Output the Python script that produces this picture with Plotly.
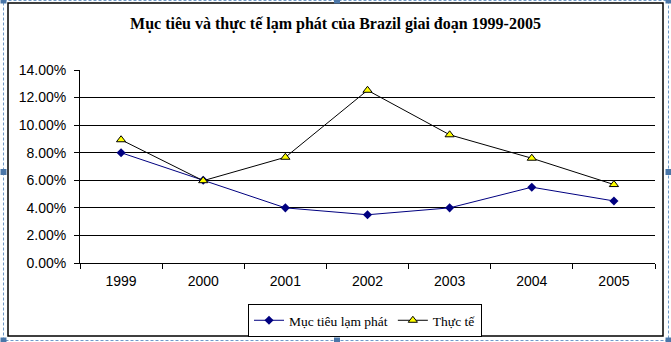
import plotly.graph_objects as go

years = ["1999", "2000", "2001", "2002", "2003", "2004", "2005"]
target = [0.08, 0.06, 0.04, 0.035, 0.04, 0.055, 0.045]
actual = [0.0894, 0.0597, 0.0767, 0.1253, 0.0930, 0.0760, 0.0569]
yticks = [0, 0.02, 0.04, 0.06, 0.08, 0.10, 0.12, 0.14]

W, H = 671, 342
L, R, T, B = 80, 16, 70, 79
PW, PH = W - L - R, H - T - B

def px(x):
    return (x - L) / PW

def py(y):
    return (H - B - y) / PH

fig = go.Figure()
fig.add_trace(go.Scatter(
    x=years, y=target, name="Mục tiêu lạm phát", mode="lines+markers",
    line=dict(color="#000080", width=1),
    marker=dict(symbol="diamond", size=7, color="#000080", line=dict(width=0)),
))
fig.add_trace(go.Scatter(
    x=years, y=actual, name="Thực tế", mode="lines+markers",
    line=dict(color="#000000", width=1),
    marker=dict(symbol="triangle-up", size=8, color="#FFFF00", line=dict(color="#000000", width=1)),
))

shapes = []
# chart area frame
shapes.append(dict(type="rect", xref="paper", yref="paper",
                   x0=px(8), x1=px(663), y0=py(3), y1=py(336),
                   line=dict(color="black", width=1.5), layer="below"))
# selection dashed border
shapes.append(dict(type="rect", xref="paper", yref="paper",
                   x0=px(3.5), x1=px(668.5), y0=py(0.5), y1=py(340.5),
                   line=dict(color="#6E9AC9", width=1, dash="3px,2px"), layer="below"))
# handles
for hx, hy in [(3.5, 0.5), (337, 0.5), (668.5, 0.5), (3.5, 172), (668.5, 172),
               (3.5, 340.5), (337, 340.5), (668.5, 340.5)]:
    shapes.append(dict(type="rect", xref="paper", yref="paper",
                       x0=px(hx - 3), x1=px(hx + 3), y0=py(hy - 3), y1=py(hy + 3),
                       line=dict(width=0), fillcolor="#4A76A8"))

fig.update_layout(
    width=W, height=H,
    margin=dict(l=L, r=R, t=T, b=B),
    paper_bgcolor="white", plot_bgcolor="white",
    title=dict(text="<b>Mục tiêu và thực tế lạm phát của Brazil giai đoạn 1999-2005</b>",
               x=0.5, xref="container", xanchor="center",
               y=1 - 23 / H, yref="container", yanchor="middle",
               font=dict(family="Liberation Serif", size=16, color="black")),
    showlegend=True,
    legend=dict(orientation="h", xref="container", yref="container",
                x=248 / W, xanchor="left", y=1 - 304 / H, yanchor="top",
                bordercolor="black", borderwidth=1, bgcolor="white",
                font=dict(family="Liberation Serif", size=13.5, color="black"),
                itemwidth=30, tracegroupgap=0),
    shapes=shapes,
    xaxis=dict(type="category", range=[-0.5, 6.5], tickson="boundaries",
               ticks="outside", ticklen=5, tickcolor="black",
               showline=True, linecolor="black", linewidth=1, showgrid=False,
               tickfont=dict(family="Liberation Sans", size=14, color="black"),
               ticklabelstandoff=5),
    yaxis=dict(range=[0, 0.14], tickvals=yticks, tickformat=".2%",
               ticks="outside", ticklen=5, tickcolor="black",
               showline=True, linecolor="black", linewidth=1,
               showgrid=True, gridcolor="black", gridwidth=1, zeroline=False,
               ticklabelstandoff=5,
               tickfont=dict(family="Liberation Sans", size=14, color="black")),
)

fig.write_html("out.html")
